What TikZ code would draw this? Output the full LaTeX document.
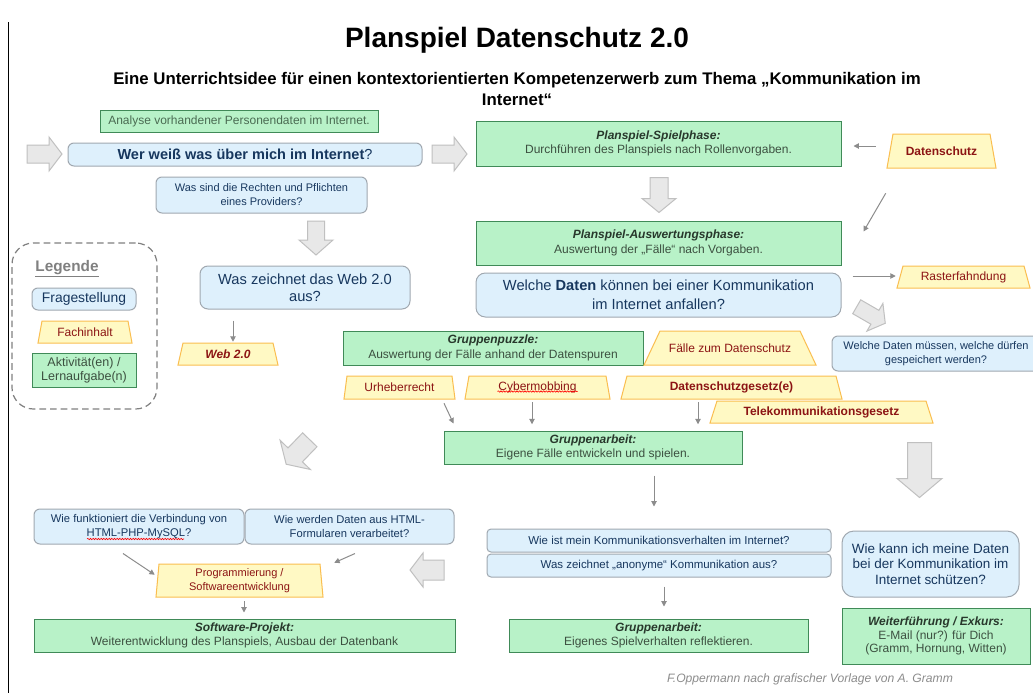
\documentclass[tikz,border=0pt]{standalone}
\usepackage{fontspec}
\setmainfont{Liberation Sans}
\usetikzlibrary{arrows.meta,decorations.pathmorphing,calc}
\definecolor{bfill}{RGB}{222,240,252}
\definecolor{bdraw}{RGB}{160,168,176}
\definecolor{btext}{RGB}{23,55,94}
\definecolor{gfill}{RGB}{184,242,200}
\definecolor{gdraw}{RGB}{64,138,88}
\definecolor{gtext}{RGB}{60,80,64}
\definecolor{ghead}{RGB}{40,56,44}
\definecolor{yfill}{RGB}{255,249,196}
\definecolor{ydraw}{RGB}{250,190,80}
\definecolor{ytext}{RGB}{140,20,20}
\definecolor{afill}{RGB}{232,232,232}
\definecolor{adraw}{RGB}{192,192,192}
\definecolor{cline}{RGB}{140,140,140}
\definecolor{foot}{RGB}{140,140,140}
\newcommand\fz[2]{\fontsize{#1}{#2}\selectfont}
\tikzset{
 qbox/.style={draw=bdraw, fill=bfill, rounded corners=4.5pt, text=btext, align=center, inner sep=0pt, line width=0.75pt},
 gbox/.style={draw=gdraw, fill=gfill, text=gtext, align=center, inner sep=0pt, line width=0.75pt, font=\fz{9pt}{10.9pt}},
 ttext/.style={text=ytext, align=center, inner sep=0pt, font=\fz{9pt}{11pt}},
 trapshape/.style={draw=ydraw, fill=yfill, line width=0.75pt},
 blockar/.style={draw=adraw, fill=afill, line width=0.75pt, line join=miter},
 con/.style={draw=cline, line width=0.75pt, -{Triangle[length=4pt,width=4pt]}},
 spell/.style={draw=red, line width=0.45pt, decorate, decoration={snake, amplitude=0.5pt, segment length=2pt}},
 legendbox/.style={draw=gray, dash pattern=on 5pt off 3pt, rounded corners=16pt, line width=0.9pt, inner sep=0pt},
}
% box: style, name, x1, y1, x2, y2, text
\newcommand\bx[7]{\node[#1, minimum width={(#5-#3)*0.75pt}, minimum height={(#6-#4)*0.75pt}] (#2) at ({(#3+#5)/2},{(#4+#6)/2}) {#7};}
% trapezoid: style, name, x1 (bottom left), y top, x2 (bottom right), y bottom, inset, text
\newcommand\tz[8]{\path[trapshape] (#3,#6) -- (#5,#6) -- ({#5-#7},#4) -- ({#3+#7},#4) -- cycle;
\node[ttext,#1, minimum width={(#5-#3)*0.75pt}, minimum height={(#6-#4)*0.75pt}] (#2) at ({(#3+#5)/2},{(#4+#6)/2}) {#8};}
% block arrow: cx, cy, angle, length, head width, shaft width, head length
\newcommand\blk[7]{\path[blockar, shift={(#1,#2)}, rotate=#3] ({-#4/2},{-#6/2}) -- ({#4/2-#7},{-#6/2}) -- ({#4/2-#7},{-#5/2}) -- ({#4/2},0) -- ({#4/2-#7},{#5/2}) -- ({#4/2-#7},{#6/2}) -- ({-#4/2},{#6/2}) -- cycle;}
\begin{document}
\begin{tikzpicture}[x=0.75pt,y=-0.75pt]
\useasboundingbox (0,0) rectangle (1033,693);
\fill[white] (0,0) rectangle (1033,693);
\draw[line width=0.75pt] (8,22) -- (8,693);

% titles
\node[font=\fz{21pt}{25pt}\bfseries] (title) at (517,40) {Planspiel Datenschutz 2.0};
\node[font=\fz{12.6pt}{15.75pt}\bfseries, align=center] (sub) at (517,89) {Eine Unterrichtsidee für einen kontextorientierten Kompetenzerwerb zum Thema „Kommunikation im\\Internet“};

% left column top
\bx{gbox, text={rgb,255:red,74;green,107;blue,82}}{analyse}{100}{110}{378}{132}{Analyse vorhandener Personendaten im Internet.}
\bx{qbox, font=\fz{10.9pt}{13pt}}{wer}{68}{143}{422}{166}{\textbf{Wer weiß was über mich im Internet}?}
\bx{qbox, font=\fz{8.25pt}{10.5pt}}{provider}{156}{177}{367}{213}{Was sind die Rechten und Pflichten\\eines Providers?}
\bx{qbox, rounded corners=6pt, font=\fz{11pt}{12.4pt}}{webq}{200}{266}{410}{309}{Was zeichnet das Web 2.0\\aus?}
\tz{font=\fz{9pt}{11pt}\bfseries\itshape}{web}{178}{343}{278}{365}{5}{Web 2.0}

% legend
\bx{legendbox}{legend}{12}{243}{157}{409}{}
\node[text=gray, font=\fz{11.5pt}{13pt}\bfseries] (legtitle) at (67,269) {\underline{Legende}};
\bx{qbox, font=\fz{10.4pt}{12pt}}{legq}{32}{288}{136}{310}{Fragestellung}
\tz{}{legf}{38}{321}{132}{343}{4}{Fachinhalt}
\bx{gbox, font=\fz{9.4pt}{10.7pt}}{lega}{32}{353}{136}{387}{Aktivität(en) /\\Lernaufgabe(n)}

% right column top
\bx{gbox}{spiel}{476}{121}{841}{166}{{\color{ghead}\bfseries\itshape Planspiel-Spielphase:}\\Durchführen des Planspiels nach Rollenvorgaben.}
\tz{font=\fz{9pt}{11pt}\bfseries}{ds}{887}{134}{996}{168}{6}{Datenschutz}
\bx{gbox}{ausw}{476}{221}{841}{265}{{\color{ghead}\bfseries\itshape Planspiel-Auswertungsphase:}\\Auswertung der „Fälle“ nach Vorgaben.}
\bx{qbox, rounded corners=7pt, font=\fz{11pt}{14.25pt}}{daten}{476}{273}{841}{317}{Welche \textbf{Daten} können bei einer Kommunikation\\im Internet anfallen?}
\tz{}{raster}{897}{266}{1030}{288}{6}{Rasterfahndung}
\bx{qbox, font=\fz{8.25pt}{10.5pt}}{speichern}{832}{336}{1040}{371}{Welche Daten müssen, welche dürfen\\gespeichert werden?}

% middle
\bx{gbox}{puzzle}{343}{331}{643}{365}{{\color{ghead}\bfseries\itshape Gruppenpuzzle:}\\Auswertung der Fälle anhand der Datenspuren}
\tz{}{faelle}{644}{331}{816}{365}{16}{Fälle zum Datenschutz}
\tz{}{urh}{344}{376}{455}{399}{3}{Urheberrecht}
\tz{}{cyber}{465}{376}{610}{399}{4}{Cybermobbing}
\tz{font=\fz{9pt}{11pt}\bfseries}{dsg}{621}{376}{842}{399}{6}{Datenschutzgesetz(e)}
\tz{font=\fz{9pt}{11pt}\bfseries}{tkg}{710}{401}{933}{423}{7}{Telekommunikationsgesetz}
\bx{gbox}{ga1}{444}{431}{742}{464}{{\color{ghead}\bfseries\itshape Gruppenarbeit:}\\Eigene Fälle entwickeln und spielen.}

% lower right
\bx{qbox, rounded corners=3pt, font=\fz{8.6pt}{10pt}}{kv}{487}{529}{831}{552}{Wie ist mein Kommunikationsverhalten im Internet?}
\bx{qbox, rounded corners=3pt, font=\fz{8.6pt}{10pt}}{anon}{487}{554}{831}{577}{Was zeichnet „anonyme“ Kommunikation aus?}
\bx{qbox, rounded corners=9pt, font=\fz{10.1pt}{11.8pt}}{schutz}{842}{531}{1019}{597}{Wie kann ich meine Daten\\bei der Kommunikation im\\Internet schützen?}
\bx{gbox}{ga2}{509}{619}{808}{652}{{\color{ghead}\bfseries\itshape Gruppenarbeit:}\\Eigenes Spielverhalten reflektieren.}
\bx{gbox, font=\fz{9pt}{10pt}}{weiter}{842}{608}{1030}{664}{{\color{ghead}\bfseries\itshape Weiterführung / Exkurs:}\\E-Mail (nur?) für Dich\\(Gramm, Hornung, Witten)}

% lower left
\bx{qbox, font=\fz{8.4pt}{10.5pt}}{verb}{34}{509}{244}{544}{Wie funktioniert die Verbindung von\\HTML-PHP-MySQL?}
\bx{qbox, font=\fz{8.4pt}{10.5pt}}{form}{245}{509}{454}{544}{Wie werden Daten aus HTML-\\Formularen verarbeitet?}
\tz{font=\fz{8.25pt}{10.5pt}}{prog}{156}{564}{323}{597}{3}{Programmierung /\\Softwareentwicklung}
\bx{gbox}{sw}{34}{619}{455}{652}{{\color{ghead}\bfseries\itshape Software-Projekt:}\\Weiterentwicklung des Planspiels, Ausbau der Datenbank}

\node[text=foot, font=\fz{9.1pt}{11pt}\itshape] (footer) at (810,679) {F.Oppermann nach grafischer Vorlage von A. Gramm};

% block arrows
\blk{44.5}{154}{0}{35}{34}{18}{13}
\blk{449.5}{154}{0}{35}{34}{18}{13}
\blk{659}{195}{-90}{35}{34}{18}{14}
\blk{316}{238}{-90}{34}{34}{17}{15}
\blk{871}{315}{-30}{33}{32}{16}{12}
\blk{919.5}{470}{-90}{55}{45}{24}{19}
\blk{298}{452}{-134}{34}{42}{20}{13}
\blk{427}{570}{180}{34}{34}{20}{13}

% connectors
\draw[con] ($(webq.south)+(-72,11)$) -- ($(web.north)+(5,-1)$);
\draw[con] ($(ds.west)+(-11,-5)$) -- ($(spiel.east)+(12,2.5)$);
\draw[con] ($(ds.south west)+(-1,25)$) -- ($(ausw.north east)+(22,11)$);
\draw[con] ($(daten.east)+(11,-19)$) -- ($(raster.west)+(-1,-1)$);
\draw[con] ($(urh.south)+(44.5,4)$) -- ($(ga1.north west)+(10,-7)$);
\draw[con] ($(cyber.south)+(-5.5,3)$) -- ($(cyber.south)+(-5.5,25)$);
\draw[con] ($(dsg.south)+(-33.5,3)$) -- ($(dsg.south)+(-33.5,25)$);
\draw[con] ($(ga1.south)+(61,11)$) -- ($(kv.north)+(-5,-22)$);
\draw[con] ($(anon.south)+(5,9)$) -- ($(ga2.north)+(5.5,-12)$);
\draw[con] ($(verb.south)+(-16,9)$) -- ($(prog.north west)+(-1,11)$);
\draw[con] ($(form.south)+(5.5,9)$) -- ($(prog.north east)+(11,-1)$);
\draw[con] ($(prog.south)+(4.5,4)$) -- ($(sw.north)+(-0.5,-6)$);

% spell-check marks
\draw[spell] ($(cyber.center)+(-40,4)$) -- ($(cyber.center)+(40,4)$);
\draw[spell] ($(verb.center)+(-52,12.5)$) -- ($(verb.center)+(45,12.5)$);
\end{tikzpicture}
\end{document}
